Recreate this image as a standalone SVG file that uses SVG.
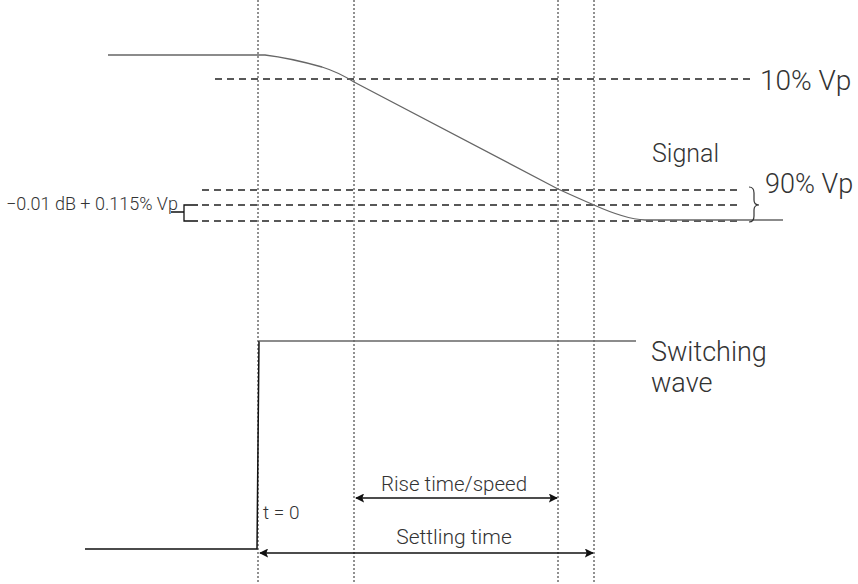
<svg xmlns="http://www.w3.org/2000/svg" width="858" height="584" viewBox="0 0 858 584">
<defs>
<style>
.dot{stroke:#222;stroke-width:1;stroke-dasharray:2,2;fill:none}
.dash{stroke:#222;stroke-width:1.3;stroke-dasharray:7,5;fill:none}
.t{font-family:Roboto,"Liberation Sans",sans-serif;font-weight:300;fill:#333}
.dim{stroke:#111;stroke-width:1.5;fill:none}
</style>
<marker id="ah" viewBox="0 0 10 10" refX="9" refY="5" markerWidth="9" markerHeight="9" orient="auto-start-reverse" markerUnits="userSpaceOnUse">
<path d="M0,0 L10,5 L0,10 L2,5 Z" fill="#111"/>
</marker>
</defs>
<rect width="858" height="584" fill="#fff"/>
<g id="guides">
<line class="dot" x1="258" y1="0" x2="258" y2="584"/>
<line class="dot" x1="354" y1="0" x2="354" y2="584"/>
<line class="dot" x1="558" y1="0" x2="558" y2="584"/>
<line class="dot" x1="594" y1="0" x2="594" y2="584"/>
<line class="dash" x1="215" y1="79" x2="752" y2="79"/>
<line class="dash" x1="202" y1="190" x2="742" y2="190"/>
<line class="dash" x1="202" y1="205" x2="742" y2="205"/>
<line class="dash" x1="202" y1="221" x2="742" y2="221"/>
</g>
<g id="signal">
<path d="M108,55 L265,55 Q290,58 322,67 Q338,72 354,82 L558,189 Q580,199 594,205 Q625,219 645,220 L783,220" fill="none" stroke="#666" stroke-width="1.3"/>
<text class="t" x="652" y="162" font-size="25">Signal</text>
</g>
<g id="labels">
<text class="t" x="760" y="90" font-size="28">10% Vp</text>
<path d="M749,187 q5,0 5,6 v7 q0,5 5,5 q-5,0 -5,5 v6 q0,6 -5,6" fill="none" stroke="#333" stroke-width="1.2"/>
<text class="t" x="765" y="193" font-size="27">90% Vp</text>
<text class="t" x="6" y="210" font-size="18">−0.01 dB + 0.115% Vp</text>
<path d="M171,212 H184 M198,205 H184 V221 H198" fill="none" stroke="#111" stroke-width="1.3"/>
</g>
<g id="switching">
<path d="M85,549 H257 L259,341" fill="none" stroke="#111" stroke-width="1.5"/>
<line x1="259" y1="341" x2="636" y2="341" stroke="#666" stroke-width="1.5"/>
<text class="t" x="651" y="361" font-size="27">Switching</text>
<text class="t" x="651" y="392" font-size="27">wave</text>
</g>
<g id="connectors">
<line class="dim" x1="356" y1="498" x2="557" y2="498" marker-start="url(#ah)" marker-end="url(#ah)"/>
<line class="dim" x1="260" y1="553" x2="593" y2="553" marker-start="url(#ah)" marker-end="url(#ah)"/>
</g>
<g id="dimlabels">
<text class="t" x="454" y="491" font-size="20.5" text-anchor="middle">Rise time/speed</text>
<text class="t" x="454" y="544" font-size="21" text-anchor="middle">Settling time</text>
<text class="t" x="263" y="519" font-size="19">t = 0</text>
</g>
</svg>
